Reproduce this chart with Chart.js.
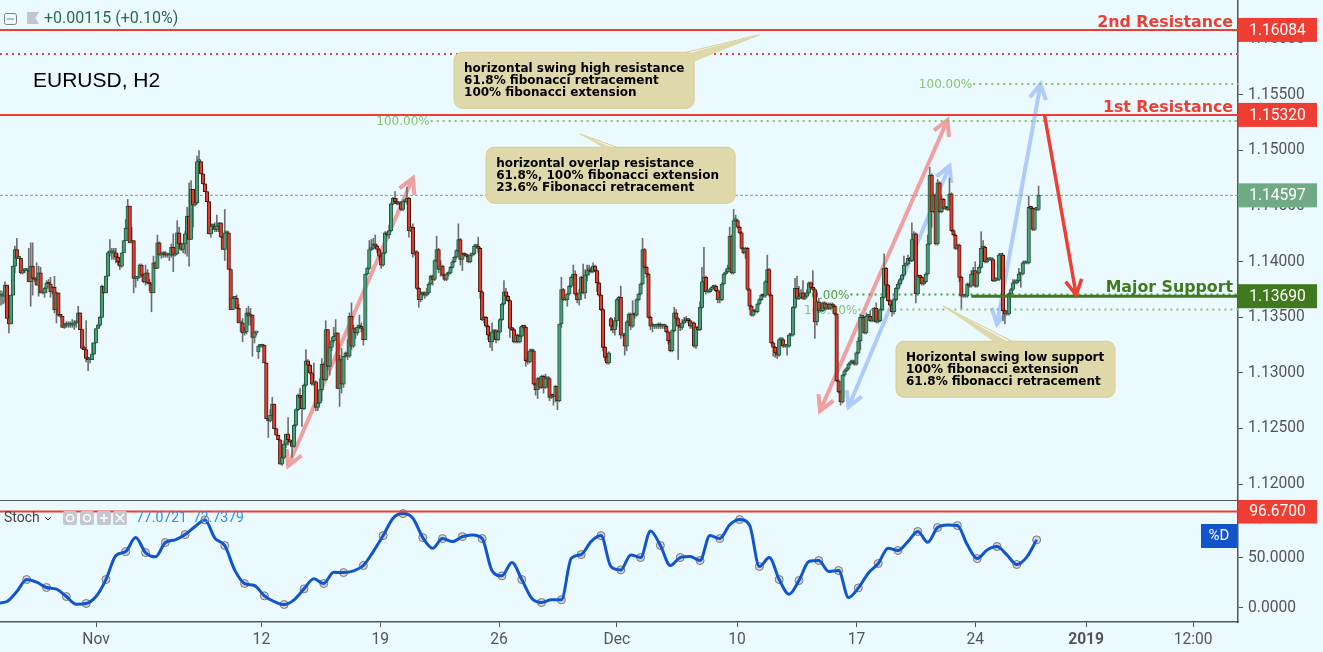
<!DOCTYPE html>
<html>
<head>
<meta charset="utf-8">
<title>EURUSD, H2</title>
<script src="https://cdn.jsdelivr.net/npm/chart.js@4.4.1/dist/chart.umd.js"></script>
<style>
  html, body { margin: 0; padding: 0; background: #ebfaff; overflow: hidden; }
  canvas { position: absolute; left: 0; }
  #price-chart { top: 0; }
  #stoch-chart { top: 500px; }
</style>
</head>
<body>
<canvas id="price-chart" width="1323" height="500"></canvas>
<canvas id="stoch-chart" width="1323" height="152"></canvas>
<script>
const PRICE_BASE = 1.12
const closePips = [
  169,169,179,149,144,170,196,211,203,203,190,192,
  192,192,182,196,185,184,179,190,172,172,176,181,
  180,173,177,157,172,152,151,141,143,143,143,143,
  143,145,145,154,139,122,121,113,112,112,117,127,
  140,143,150,178,172,187,208,208,208,208,204,200,
  196,208,219,230,250,217,219,185,185,186,197,188,
  182,190,181,180,172,199,194,217,206,207,208,206,
  206,206,213,206,207,226,216,211,216,225,241,220,
  265,251,253,290,290,279,270,263,254,225,232,232,
  229,232,235,222,211,226,226,193,157,167,167,158,
  145,145,136,137,154,151,152,132,136,136,124,124,
  125,109,59,57,62,72,50,44,40,18,24,36,
  45,40,38,34,53,67,80,78,68,89,111,107,
  100,90,92,69,73,85,108,94,139,106,
  123,129,133,136,86,112,90,115,118,115,151,124,
  140,136,141,142,140,130,189,194,211,212,216,214,
  211,205,197,208,226,224,228,252,257,254,252,253,
  247,254,254,257,228,231,207,209,176,166,171,172,
  170,172,180,187,184,201,211,193,196,188,184,189,
  190,195,200,204,210,220,202,207,206,205,200,206,
  207,214,214,212,173,148,150,142,134,128,137,138,
  130,137,148,162,173,169,165,140,139,128,134,128,
  133,142,141,111,110,120,120,90,85,95,87,97,
  87,95,95,78,80,79,88,75,144,175,166,166,
  171,178,186,189,171,166,172,186,172,188,192,192,
  191,196,192,181,170,157,123,114,109,118,142,139,
  147,166,168,134,134,124,146,153,142,153,152,166,
  171,180,211,195,189,150,142,142,142,142,143,
  142,142,142,137,129,120,138,154,149,142,141,145,
  147,148,147,142,145,124,141,139,159,182,186,173,
  173,175,177,178,174,166,166,180,189,191,194,223,
  190,237,237,231,226,212,208,212,175,160,152,156,
  155,162,166,170,169,182,193,170,127,123,118,116,
  130,130,124,124,124,134,134,159,176,167,168,172,
  167,169,172,181,177,175,146,164,156,156,163,158,
  162,158,162,160,153,93,83,74,98,102,104,108,
  110,110,108,118,129,150,150,136,151,151,147,147,
  158,146,147,157,168,194,179,165,161,155,166,176,
  180,184,188,197,198,203,201,220,225,171,187,186,
  180,182,189,216,278,245,260,216,271,245,256,248,
  248,247,261,228,224,212,215,186,169,169,169,180,
  178,189,192,178,190,195,212,213,200,202,202,202,
  183,184,184,206,206,156,153,153,171,175,181,181,
  183,189,189,199,199,199,249,248,229,247,247,260,
]
// How far each wick sticks out of the body, in pips
const wickUpPips = [
  5,4,3,0,0,0,0,3,10,0,0,0,
  2,2,20,21,21,0,15,6,5,2,1,2,
  3,6,1,10,1,0,0,0,1,3,3,3,
  5,2,2,6,0,0,2,26,1,1,10,0,
  0,1,1,1,0,0,1,12,4,4,4,3,
  3,0,0,8,6,0,12,0,1,1,1,1,
  1,7,3,3,0,6,1,7,1,1,1,1,
  1,1,3,12,0,11,5,1,1,2,8,30,
  8,0,0,5,10,0,0,0,0,0,2,2,
  3,10,0,0,0,21,1,0,1,1,1,3,
  4,1,4,4,4,6,6,0,0,0,1,1,
  1,0,0,0,5,6,0,0,0,0,3,3,
  0,15,0,0,1,1,1,6,1,1,10,1,
  1,1,17,1,1,10,5,1,8,0,
  0,3,8,12,0,4,10,0,1,12,3,12,
  3,1,2,10,3,0,0,1,8,8,5,8,
  1,1,3,1,1,1,5,1,1,6,3,1,
  1,1,1,10,1,1,3,1,1,1,1,1,
  1,4,1,1,1,1,12,1,5,1,1,1,
  1,1,1,1,1,14,1,1,1,1,1,1,
  1,1,1,8,1,1,1,1,1,1,8,1,
  1,1,1,1,10,3,1,1,1,1,1,1,
  8,1,1,1,8,1,1,1,1,1,1,1,
  1,4,1,1,1,1,1,0,0,11,1,1,
  1,1,1,8,3,1,3,1,12,5,5,5,
  3,3,1,1,1,1,1,1,1,1,1,1,
  3,1,1,10,1,1,1,1,1,12,1,1,
  1,1,10,1,1,1,1,3,1,2,2,
  2,2,2,1,1,1,1,5,3,1,1,3,
  3,3,1,1,1,1,1,1,5,13,27,1,
  1,1,1,1,1,1,1,1,1,2,3,8,
  1,10,5,1,1,1,1,1,1,1,1,1,
  1,1,1,1,1,1,13,1,1,1,1,1,
  1,1,1,1,1,1,1,1,9,11,10,3,
  11,3,3,1,1,15,1,1,3,1,1,1,
  1,1,1,1,1,1,1,1,1,1,1,1,
  1,1,1,1,3,3,1,1,3,1,5,1,
  1,5,1,1,1,13,1,1,1,1,1,1,
  2,1,1,8,1,3,1,15,2,1,1,1,
  1,1,1,8,7,1,1,1,3,1,3,1,
  1,1,14,1,1,1,1,1,1,1,1,1,
  1,3,3,8,1,1,15,6,1,1,1,1,
  1,1,1,1,1,1,1,1,1,1,3,3,
  1,5,1,1,1,1,10,1,1,1,1,8,
]
const wickDownPips = [
  8,7,6,0,8,0,0,6,0,0,1,1,
  2,0,0,22,15,2,0,10,0,1,4,4,
  0,5,2,3,12,1,1,0,1,2,2,2,
  2,4,4,0,0,0,0,3,10,3,0,0,
  0,0,1,0,0,0,0,3,6,6,5,3,
  3,1,0,0,0,0,0,13,8,2,0,1,
  1,3,1,6,17,0,0,0,0,3,3,2,
  2,5,2,15,1,0,0,1,3,9,20,24,
  0,20,1,1,0,0,0,0,0,0,3,3,
  2,2,5,0,0,10,0,0,0,0,0,0,
  0,8,8,2,2,8,8,17,5,2,6,1,
  1,0,0,15,1,1,0,0,0,0,1,1,
  3,5,1,10,1,1,1,1,16,1,1,1,
  1,1,1,3,3,1,10,1,1,3,
  8,3,2,0,0,16,8,3,1,3,1,3,
  1,5,2,1,3,5,0,1,1,1,1,2,
  3,3,3,1,1,1,3,1,1,1,1,1,
  1,1,1,2,6,1,3,1,1,7,2,2,
  3,1,1,1,5,1,1,3,6,1,1,1,
  2,1,1,1,1,1,5,10,1,1,1,1,
  1,1,1,4,6,1,3,1,4,5,8,5,
  3,1,1,1,1,3,1,8,1,1,1,1,
  1,1,3,5,2,1,1,1,5,8,1,1,
  5,1,8,3,1,8,5,8,1,3,1,1,
  6,1,1,1,1,3,5,6,1,5,5,4,
  1,1,1,8,1,1,3,3,1,1,4,3,
  5,5,5,3,1,8,4,3,3,1,3,1,
  1,1,1,1,3,1,3,5,2,2,2,
  2,2,2,1,3,1,1,1,2,30,3,2,
  1,1,2,2,2,1,2,1,1,1,1,2,
  1,1,1,1,1,3,3,1,1,1,1,1,
  1,1,1,1,1,1,1,5,1,3,1,1,
  1,1,1,1,1,1,1,1,1,8,4,3,
  1,4,1,1,8,1,1,1,1,1,1,1,
  1,1,1,1,1,1,15,3,2,1,1,1,
  1,1,1,1,1,1,1,3,1,1,1,1,
  1,1,1,1,1,8,1,1,1,1,1,1,
  1,1,1,1,1,1,1,1,1,4,2,1,
  1,1,1,1,1,1,1,1,1,8,1,1,
  1,1,1,1,1,14,1,1,1,1,1,1,
  1,1,1,1,1,1,1,4,11,1,1,1,
  1,1,1,1,1,1,1,1,1,1,1,1,
  1,1,1,1,1,9,9,1,1,1,1,1,
  1,1,12,1,1,1,1,1,1,1,1,1,
]
// Weekend gaps, where a bar does not open at the previous close
const gapBars = [130, 308]
const gapOpenPips = [119, 149]

// Stochastic %D, one reading every 5 bars from bar -2, dots on every second one
const stochValues = [
  4.5,6.2,16.3,28.3,25.6,20.3,18.6,11.2,3.5,4.2,11.2,28.3,
  52.4,56.4,70.5,55.4,51.1,65.5,68.2,73.5,81.6,88.3,69.9,62.5,
  38,24.3,22.3,11.9,6.2,3.2,7.9,18.9,29,24.3,35.7,35.3,
  37,42.4,56.4,72.5,90,94.6,90,70.5,59.8,69.5,66.5,71.5,
  73.2,69.5,37,32,45.4,28.3,9.5,5.2,7.9,7.9,49.7,53.4,
  66.5,72.5,41.4,38,53.1,50.4,77.2,62.5,42.4,50.4,51.4,47.4,
  72.5,69.5,83.2,88.6,83.2,41.4,50.4,28.3,13.6,27.3,46.4,47.4,
  36.4,37.4,10.2,19.9,34.7,44.4,59.8,57.5,66.5,76.6,65.8,80.6,
  83.2,82.6,63.2,49.4,58.1,61.5,53.1,43.4,50.8,68.2,
]
const stochLevel = 96.67

// Axis ticks
const priceTicks = [1.12, 1.125, 1.13, 1.135, 1.14, 1.145, 1.15, 1.155, 1.16]
const stochTicks = [0, 50]
const timeTickBars = [48, 131.5, 191.5, 251.5, 311, 371.7, 432, 492, 548, 602]
const timeTickLabels = ["Nov", "12", "19", "26", "Dec", "10", "17", "24", "2019", "12:00"]

// Horizontal levels
const resistancePrices = [1.16084, 1.1532]
const swingDottedPrice = 1.15868
const supportPrice = 1.1369
const supportStartBar = 490
const lastPrice = 1.14597
const fibPrices = [1.15598, 1.15265, 1.13705, 1.1357]
const fibStartBars = [491, 217, 429, 433]
const fibLabels = ["100.00%", "100.00%", "0.00%", "100.00%"]

// Arrows: start bar/price, end bar/price
const arrowStartBars = [145, 413.6, 428, 503, 527]
const arrowStartPrices = [1.12164, 1.12658, 1.12694, 1.1344, 1.15319]
const arrowEndBars = [208, 478, 479, 525, 543]
const arrowEndPrices = [1.14753, 1.15274, 1.14861, 1.15598, 1.13701]

// Callouts
const calloutBars = [228.8, 245, 452]
const calloutPrices = [1.15883, 1.15029, 1.13285]
const calloutTipBars = [383, 292.4, 475.8]
const calloutTipPrices = [1.1604, 1.15148, 1.13602]
const calloutTexts = [
  ["horizontal swing high resistance", "61.8% fibonacci retracement", "100% fibonacci extension"],
  ["horizontal overlap resistance", "61.8%, 100% fibonacci extension", "23.6% Fibonacci retracement"],
  ["Horizontal swing low support", "100% fibonacci extension", "61.8% fibonacci retracement"],
]

// Colours and layout
const AXIS = "#555555"
const RED = "#ee3d33"
const DARK_GREEN = "#3f7a1e"
const BAR_MIN = -0.5
const BAR_MAX = 624.7
const AXIS_WIDTH = 85
const TICK_FONT = { family: "Roboto", size: 15.6 }

const toPrice = (pips) => PRICE_BASE + pips / 10000

// Build candles
const opens = closePips.map((c, i) => {
  const gap = gapBars.indexOf(i)
  if (gap >= 0) return toPrice(gapOpenPips[gap])
  return toPrice(i === 0 ? c : closePips[i - 1])
})
const closes = closePips.map(toPrice)
const bodies = closes.map((c, i) => ({ x: i, y: [opens[i], c] }))
const wicks = closes.map((c, i) => ({
  x: i,
  y: [
    Math.min(opens[i], c) - (wickDownPips[i] || 0) / 10000,
    Math.max(opens[i], c) + (wickUpPips[i] || 0) / 10000,
  ],
}))

function levelLine(price, color, width, dash, fromBar = BAR_MIN, order = 5) {
  return {
    type: "line",
    data: [{ x: fromBar, y: price }, { x: BAR_MAX, y: price }],
    borderColor: color,
    borderWidth: width,
    borderDash: dash,
    pointRadius: 0,
    order,
  }
}

function px(chart, bar, price) {
  return [chart.scales.x.getPixelForValue(bar), chart.scales.y.getPixelForValue(price)]
}

// Draw arrows under the candles
function drawArrow(ctx, x1, y1, x2, y2, color, width, head, bothEnds) {
  const angle = Math.atan2(y2 - y1, x2 - x1)
  ctx.strokeStyle = color
  ctx.lineWidth = width
  ctx.beginPath()
  ctx.moveTo(x1, y1)
  ctx.lineTo(x2, y2)
  const ends = bothEnds ? [[x2, y2, angle], [x1, y1, angle + Math.PI]] : [[x2, y2, angle]]
  ends.forEach(([x, y, a]) => {
    ctx.moveTo(x - head * Math.cos(a - 0.5), y - head * Math.sin(a - 0.5))
    ctx.lineTo(x, y)
    ctx.lineTo(x - head * Math.cos(a + 0.5), y - head * Math.sin(a + 0.5))
  })
  ctx.stroke()
}

function drawCallout(ctx, chart, i) {
  const [bx, by] = px(chart, calloutBars[i], calloutPrices[i])
  const [tx, ty] = px(chart, calloutTipBars[i], calloutTipPrices[i])
  const widths = [240, 249, 219]
  // where the pointer leaves the box, relative to the box corner
  const bases = [[[232, 0], [240, 8]], [[121, 0], [131, 0]], [[101, 0], [116, 0]]]
  const [[ax, ay], [cx, cy]] = bases[i]
  ctx.fillStyle = "#ded8aa"
  ctx.strokeStyle = "#d9cd8c"
  ctx.lineWidth = 1
  ctx.beginPath()
  ctx.roundRect(bx, by, widths[i], 56, 8)
  ctx.fill()
  ctx.stroke()
  ctx.beginPath()
  ctx.moveTo(bx + ax, by + ay)
  ctx.lineTo(tx, ty)
  ctx.lineTo(bx + cx, by + cy)
  ctx.stroke()
  ctx.beginPath()
  ctx.moveTo(bx + ax - 1, by + ay + 2)
  ctx.lineTo(tx, ty)
  ctx.lineTo(bx + cx - 1, by + cy + 2)
  ctx.closePath()
  ctx.fill()
  ctx.fillStyle = "#000000"
  ctx.font = "bold 12px 'DejaVu Sans'"
  ctx.textAlign = "left"
  ctx.textBaseline = "middle"
  calloutTexts[i].forEach((line, n) => ctx.fillText(line, bx + 10, by + 16.5 + n * 12))
}

function drawBadge(ctx, y, text, color, x = 1238) {
  ctx.fillStyle = color
  ctx.fillRect(x, y - 12, 79, 24)
  ctx.fillStyle = "#ffffff"
  ctx.font = "15.6px Roboto"
  ctx.textAlign = "center"
  ctx.textBaseline = "middle"
  ctx.fillText(text, x + 39.5, y + 1)
}

const priceOverlay = {
  id: "priceOverlay",
  beforeDatasetsDraw(chart) {
    const ctx = chart.ctx
    ctx.save()
    // fib percent labels sit behind the candles
    ctx.font = "12px 'DejaVu Sans'"
    ctx.textAlign = "right"
    ctx.textBaseline = "middle"
    fibPrices.forEach((p, i) => {
      const [x, y] = px(chart, fibStartBars[i], p)
      ctx.fillStyle = i === 2 ? "#4f9a3c" : "#86c274"
      ctx.fillText(fibLabels[i], x - 1, y + 1)
    })
    const colors = ["#f0a0a0", "#f0a0a0", "#aecbfa", "#aecbfa", RED]
    arrowStartBars.forEach((bar, i) => {
      const [x1, y1] = px(chart, bar, arrowStartPrices[i])
      const [x2, y2] = px(chart, arrowEndBars[i], arrowEndPrices[i])
      if (i < 4) drawArrow(ctx, x1, y1, x2, y2, colors[i], 4, 17, true)
    })
    ctx.restore()
  },
  afterDraw(chart) {
    const ctx = chart.ctx
    ctx.save()
    const [x1, y1] = px(chart, arrowStartBars[4], arrowStartPrices[4])
    const [x2, y2] = px(chart, arrowEndBars[4], arrowEndPrices[4])
    drawArrow(ctx, x1, y1, x2, y2, RED, 3.5, 17, false)

    calloutTexts.forEach((_, i) => drawCallout(ctx, chart, i))

    // level names
    ctx.font = "bold 15.8px 'DejaVu Sans'"
    ctx.textAlign = "right"
    ctx.textBaseline = "alphabetic"
    ctx.fillStyle = RED
    ctx.fillText("2nd Resistance", 1233, 27)
    ctx.fillText("1st Resistance", 1233, 112)
    ctx.fillStyle = DARK_GREEN
    ctx.fillText("Major Support", 1233, 292)

    // price badges
    const yOf = (p) => chart.scales.y.getPixelForValue(p)
    drawBadge(ctx, yOf(resistancePrices[0]), resistancePrices[0].toFixed(5), RED)
    drawBadge(ctx, yOf(resistancePrices[1]), resistancePrices[1].toFixed(5), RED)
    drawBadge(ctx, yOf(lastPrice), lastPrice.toFixed(5), "#6faa85")
    drawBadge(ctx, yOf(supportPrice), supportPrice.toFixed(5), DARK_GREEN)

    // top left legend
    ctx.strokeStyle = "#7f8088"
    ctx.lineWidth = 1
    ctx.beginPath()
    ctx.roundRect(4.5, 13.5, 12, 11, 2)
    ctx.moveTo(7, 19)
    ctx.lineTo(14, 19)
    ctx.stroke()
    ctx.fillStyle = "#c4c6cf"
    ctx.beginPath()
    ctx.moveTo(27, 12)
    ctx.lineTo(39, 12)
    ctx.lineTo(35.5, 18)
    ctx.lineTo(39, 24)
    ctx.lineTo(27, 24)
    ctx.fill()
    ctx.fillStyle = "#2a6a4c"
    ctx.font = "16px Roboto"
    ctx.textAlign = "left"
    ctx.textBaseline = "middle"
    ctx.fillText("+0.00115 (+0.10%)", 44, 19)
    ctx.fillStyle = "#000000"
    ctx.font = "21px 'Liberation Sans'"
    ctx.fillText("EURUSD, H2", 33, 81)
    ctx.restore()
  },
}

const stochOverlay = {
  id: "stochOverlay",
  afterDraw(chart) {
    const ctx = chart.ctx
    ctx.save()
    // pane separator
    ctx.fillStyle = AXIS
    ctx.fillRect(0, 0, 1238, 1)
    drawBadge(ctx, chart.scales.y.getPixelForValue(stochLevel), stochLevel.toFixed(4), RED)

    ctx.font = "14px Roboto"
    ctx.textAlign = "left"
    ctx.textBaseline = "middle"
    ctx.fillStyle = "#444444"
    ctx.fillText("Stoch", 4, 18.5)
    ctx.strokeStyle = "#444444"
    ctx.lineWidth = 1
    ctx.beginPath()
    ctx.moveTo(45, 17)
    ctx.lineTo(48, 20)
    ctx.lineTo(51, 17)
    ctx.stroke()

    // legend buttons
    ;[63, 80, 97, 113].forEach((x, i) => {
      ctx.fillStyle = "#c5c8d0"
      ctx.beginPath()
      ctx.roundRect(x, 11, 14, 14, 2)
      ctx.fill()
      ctx.strokeStyle = "#ffffff"
      ctx.lineWidth = 1.5
      ctx.beginPath()
      if (i < 2) {
        ctx.arc(x + 7, 18, 3.5, 0, Math.PI * 2)
      } else if (i === 2) {
        ctx.moveTo(x + 3, 18); ctx.lineTo(x + 11, 18)
        ctx.moveTo(x + 7, 14); ctx.lineTo(x + 7, 22)
      } else {
        ctx.moveTo(x + 3, 14); ctx.lineTo(x + 11, 22)
        ctx.moveTo(x + 11, 14); ctx.lineTo(x + 3, 22)
      }
      ctx.stroke()
    })

    ctx.fillStyle = "#2f8fee"
    ctx.fillText("77.0721", 136, 18.5)
    ctx.fillText("72.7379", 193, 18.5)

    // %D tag
    ctx.fillStyle = "#1155cc"
    ctx.fillRect(1201, 24, 36, 24)
    ctx.fillStyle = "#ffffff"
    ctx.font = "15px Roboto"
    ctx.textAlign = "center"
    ctx.fillText("%D", 1219, 36.5)
    ctx.restore()
  },
}

function sideAxis(ticks, min, max, digits) {
  return {
    type: "linear",
    position: "right",
    min,
    max,
    afterFit: (scale) => {
      scale.width = AXIS_WIDTH
      scale.paddingTop = 0
      scale.paddingBottom = 0
    },
    afterBuildTicks: (scale) => { scale.ticks = ticks.map((value) => ({ value })) },
    grid: { drawOnChartArea: false, drawTicks: true, tickLength: 5, color: AXIS },
    border: { color: AXIS, width: 1.5 },
    ticks: {
      color: AXIS,
      font: TICK_FONT,
      padding: 5,
      crossAlign: "near",
      callback: (value) => Number(value).toFixed(digits),
    },
  }
}

// Main candle pane
new Chart(document.getElementById("price-chart"), {
  type: "bar",
  plugins: [priceOverlay],
  data: {
    datasets: [
      levelLine(lastPrice, "#6aa888", 1, [3, 2], BAR_MIN, 6),
      levelLine(swingDottedPrice, RED, 2, [2, 4], BAR_MIN),
      levelLine(fibPrices[0], "#86c274", 2, [2, 4], fibStartBars[0]),
      levelLine(fibPrices[1], "#86c274", 2, [2, 4], fibStartBars[1]),
      levelLine(fibPrices[2], "#4f9a3c", 2, [2, 4], fibStartBars[2]),
      levelLine(fibPrices[3], "#86c274", 2, [2, 4], fibStartBars[3]),
      levelLine(resistancePrices[0], RED, 2, [], BAR_MIN, 1),
      levelLine(resistancePrices[1], RED, 2, [], BAR_MIN, 1),
      levelLine(supportPrice, DARK_GREEN, 3, [], supportStartBar, 1),
      {
        data: wicks,
        backgroundColor: "#6f6f6f",
        borderWidth: 0,
        barThickness: 1,
        grouped: false,
        order: 3,
      },
      {
        data: bodies,
        backgroundColor: (ctx) => (closes[ctx.dataIndex] >= opens[ctx.dataIndex] ? "#4f9a75" : "#e53a2c"),
        borderColor: (ctx) => (closes[ctx.dataIndex] >= opens[ctx.dataIndex] ? "#1f5a3c" : "#45170f"),
        borderWidth: 1,
        borderSkipped: false,
        barThickness: 3.6,
        minBarLength: 2,
        grouped: false,
        order: 2,
      },
    ],
  },
  options: {
    responsive: false,
    animation: false,
    layout: { padding: 0, autoPadding: false },
    plugins: { legend: { display: false }, tooltip: { enabled: false } },
    scales: {
      x: { type: "linear", min: BAR_MIN, max: BAR_MAX, display: false, offset: false, grid: { offset: false } },
      y: sideAxis(priceTicks, 1.11858, 1.16353, 5),
    },
  },
})

// Stochastic pane
const stochPoints = stochValues.map((v, k) => ({ x: -2 + 5 * k, y: v }))
const stochDots = stochPoints.filter((_, k) => k >= 3 && (k - 3) % 2 === 0)

new Chart(document.getElementById("stoch-chart"), {
  type: "line",
  plugins: [stochOverlay],
  data: {
    datasets: [
      {
        data: [{ x: BAR_MIN, y: stochLevel }, { x: BAR_MAX, y: stochLevel }],
        borderColor: RED,
        borderWidth: 2,
        pointRadius: 0,
      },
      {
        data: stochPoints,
        borderColor: "#1155cc",
        borderWidth: 3,
        pointRadius: 0,
        cubicInterpolationMode: "monotone",
      },
      {
        data: stochDots,
        showLine: false,
        pointRadius: 4,
        pointBackgroundColor: "#d3d3d3",
        pointBorderColor: "#777777",
        pointBorderWidth: 1,
      },
    ],
  },
  options: {
    responsive: false,
    animation: false,
    layout: { padding: 0, autoPadding: false },
    plugins: { legend: { display: false }, tooltip: { enabled: false } },
    scales: {
      x: {
        type: "linear",
        min: BAR_MIN,
        max: BAR_MAX,
        offset: false,
        afterFit: (scale) => {
          scale.height = 30
          scale.paddingLeft = 0
          scale.paddingRight = 0
        },
        afterBuildTicks: (scale) => { scale.ticks = timeTickBars.map((value) => ({ value })) },
        grid: { drawOnChartArea: false, drawTicks: true, tickLength: 5, color: AXIS },
        border: { color: AXIS, width: 1.5 },
        ticks: {
          color: AXIS,
          autoSkip: false,
          maxRotation: 0,
          padding: 4,
          font: (ctx) => ({ ...TICK_FONT, weight: ctx.index === 8 ? "bold" : "normal" }),
          callback: (value, i) => timeTickLabels[i],
        },
      },
      y: sideAxis(stochTicks, -14.4, 108.3, 4),
    },
  },
})
</script>
</body>
</html>
